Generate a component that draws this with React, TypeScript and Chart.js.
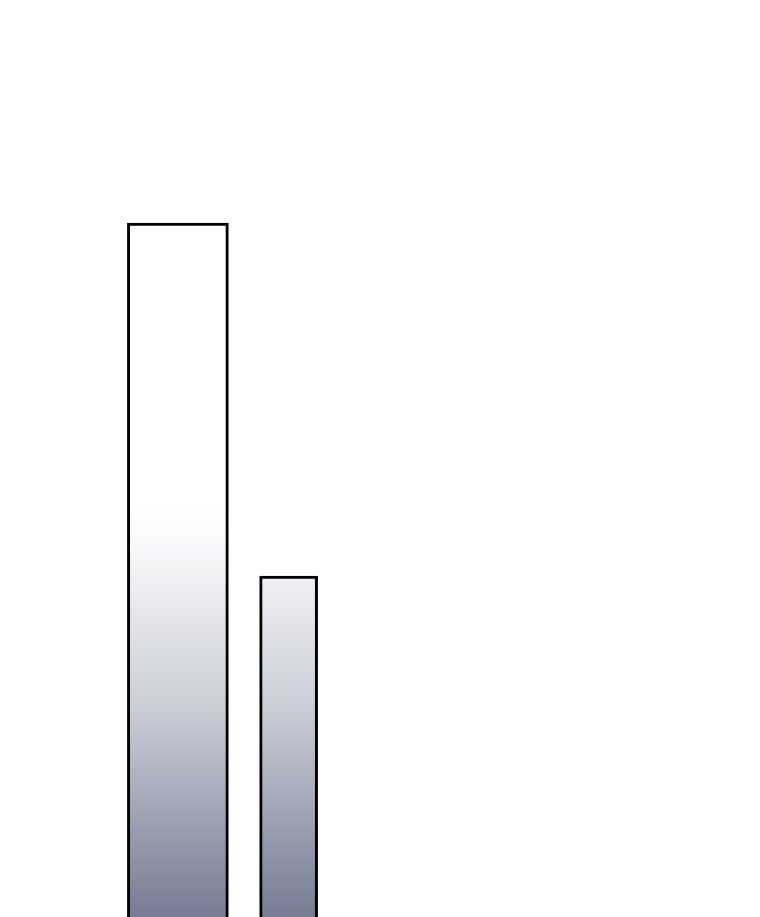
import { useEffect, useRef } from 'react'
import { Chart, registerables } from 'chart.js'

Chart.register(...registerables)

const categories = ['A', 'B']
const firstValues = [77.7, null]
const secondValues = [null, 42.4]
const yMax = 100

const App = () => {
  const chartRef = useRef<HTMLCanvasElement>(null)
  const chartInstance = useRef<Chart | null>(null)

  useEffect(() => {
    if (!chartRef.current) return
    if (chartInstance.current) chartInstance.current.destroy()

    const ctx = chartRef.current.getContext('2d')
    if (!ctx) return

    // vertical fade: white in the upper half, slate grey toward the bottom
    const fill = (context: any) => {
      const { chart } = context
      const area = chart.chartArea
      if (!area) return '#ffffff'
      const h = area.bottom - area.top
      const g = chart.ctx.createLinearGradient(0, area.top + h * 0.5, 0, area.top + h * 0.917)
      g.addColorStop(0, '#ffffff')
      g.addColorStop(0.1, '#fafafb')
      g.addColorStop(0.5, '#c9cdd6')
      g.addColorStop(1, '#767c92')
      return g
    }

    chartInstance.current = new Chart(ctx, {
      type: 'bar',
      data: {
        labels: categories,
        datasets: [
          {
            label: 'first',
            data: firstValues,
            backgroundColor: fill,
            borderColor: '#000000',
            borderWidth: 3,
            borderSkipped: false,
            barThickness: 101
          },
          {
            label: 'second',
            data: secondValues,
            backgroundColor: fill,
            borderColor: '#000000',
            borderWidth: 3,
            borderSkipped: false,
            barThickness: 58
          }
        ]
      },
      options: {
        responsive: true,
        maintainAspectRatio: false,
        animation: false,
        datasets: { bar: { grouped: false } },
        layout: { padding: { left: 122.5, right: 416, top: 0, bottom: 0 } },
        plugins: { legend: { display: false }, tooltip: { enabled: false } },
        scales: {
          x: { display: false },
          y: { display: false, min: 0, max: yMax }
        }
      }
    })

    return () => {
      if (chartInstance.current) {
        chartInstance.current.destroy()
        chartInstance.current = null
      }
    }
  }, [])

  return (
    <div style={{ position: 'fixed', top: 0, left: 0, width: 760, height: 917, overflow: 'hidden', background: '#fff' }}>
      <div style={{ position: 'relative', width: 760, height: 1000 }}>
        <canvas ref={chartRef}></canvas>
      </div>
    </div>
  )
}

export default App
